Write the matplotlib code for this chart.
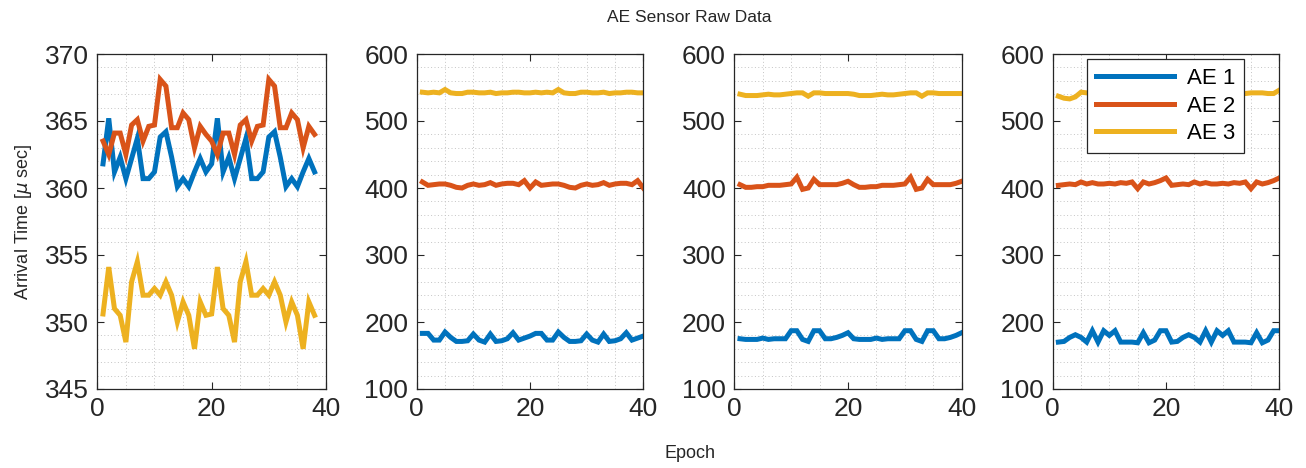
import matplotlib
matplotlib.use("Agg")
import matplotlib.pyplot as plt
from matplotlib.ticker import MultipleLocator

plt.rcParams['font.family'] = ['Liberation Sans', 'DejaVu Sans']

# ---------------- data ----------------
epochs_p1 = list(range(1, 39))
epochs = list(range(1, 41))

p1_ae1 = [361.8, 365.2, 361.2, 362.3, 360.7, 362.2, 363.7, 360.7, 360.7, 361.2,
          363.8, 364.2, 362.3, 360.1, 360.7, 360.1, 361.2, 362.2, 361.2,
          361.8, 365.2, 361.2, 362.3, 360.7, 362.2, 363.7, 360.7, 360.7, 361.2,
          363.8, 364.2, 362.3, 360.1, 360.7, 360.1, 361.2, 362.2, 361.2]
p1_ae2 = [363.5, 362.5, 364.1, 364.1, 362.5, 364.7, 365.1, 363.5, 364.6, 364.7,
          368.1, 367.6, 364.5, 364.5, 365.6, 365.1, 363.0, 364.6, 364.0,
          363.5, 362.5, 364.1, 364.1, 362.5, 364.7, 365.1, 363.5, 364.6, 364.7,
          368.1, 367.6, 364.5, 364.5, 365.6, 365.1, 363.0, 364.6, 364.0]
p1_ae3 = [350.6, 354.1, 351.0, 350.5, 348.5, 353.0, 354.5, 352.0, 352.0, 352.5,
          352.0, 353.0, 352.0, 350.0, 351.5, 350.5, 348.0, 351.5, 350.5,
          350.6, 354.1, 351.0, 350.5, 348.5, 353.0, 354.5, 352.0, 352.0, 352.5,
          352.0, 353.0, 352.0, 350.0, 351.5, 350.5, 348.0, 351.5, 350.5]

p2_ae1 = [183, 183, 173, 173, 185, 177, 171, 171, 172, 182,
          173, 170, 182, 171, 172, 175, 184, 173, 176, 179,
          183, 183, 173, 173, 185, 177, 171, 171, 172, 182,
          173, 170, 182, 171, 172, 175, 184, 173, 176, 179]
p2_ae2 = [409, 404, 405, 406, 406, 404, 401, 400, 404, 406,
          404, 405, 408, 404, 406, 407, 407, 405, 411, 400,
          409, 404, 405, 406, 406, 404, 401, 400, 404, 406,
          404, 405, 408, 404, 406, 407, 407, 405, 411, 400]
p2_ae3 = [543, 542, 543, 542, 547, 542, 541, 541, 543, 543,
          542, 542, 543, 541, 542, 542, 543, 543, 542, 542,
          543, 542, 543, 542, 547, 542, 541, 541, 543, 543,
          542, 542, 543, 541, 542, 542, 543, 543, 542, 542]

p3_ae1 = [175, 174, 174, 174, 176, 174, 175, 175, 175, 187,
          187, 174, 171, 187, 187, 175, 175, 177, 180, 184,
          175, 174, 174, 174, 176, 174, 175, 175, 175, 187,
          187, 174, 171, 187, 187, 175, 175, 177, 180, 184]
p3_ae2 = [405, 401, 401, 402, 402, 404, 404, 404, 405, 406,
          416, 398, 400, 413, 405, 405, 405, 405, 407, 410,
          405, 401, 401, 402, 402, 404, 404, 404, 405, 406,
          416, 398, 400, 413, 405, 405, 405, 405, 407, 410]
p3_ae3 = [540, 538, 538, 538, 539, 540, 539, 539, 540, 541,
          542, 542, 537, 542, 542, 541, 541, 541, 541, 541,
          540, 538, 538, 538, 539, 540, 539, 539, 540, 541,
          542, 542, 537, 542, 542, 541, 541, 541, 541, 541]

p4_ae1 = [170, 171, 177, 181, 177, 170, 187, 170, 187, 180,
          187, 170, 170, 170, 169, 184, 169, 173, 187, 187,
          170, 171, 177, 181, 177, 170, 187, 170, 187, 180,
          187, 170, 170, 170, 169, 184, 169, 173, 187, 187]
p4_ae2 = [404, 405, 406, 405, 409, 406, 408, 406, 406, 407,
          406, 408, 407, 409, 399, 409, 406, 408, 411, 415,
          404, 405, 406, 405, 409, 406, 408, 406, 406, 407,
          406, 408, 407, 409, 399, 409, 406, 408, 411, 415]
p4_ae3 = [537, 534, 533, 536, 543, 542, 542, 541, 542, 542,
          541, 542, 542, 541, 542, 542, 542, 541, 541, 546,
          537, 534, 533, 536, 543, 542, 542, 541, 542, 542,
          541, 542, 542, 541, 542, 542, 542, 541, 541, 546]

series_labels = ['AE 1', 'AE 2', 'AE 3']
colors = ['#0072BD', '#D95319', '#EDB120']

panels = [
    (epochs_p1, [p1_ae1, p1_ae2, p1_ae3], (345, 370), 5, 1),
    (epochs, [p2_ae1, p2_ae2, p2_ae3], (100, 600), 100, 20),
    (epochs, [p3_ae1, p3_ae2, p3_ae3], (100, 600), 100, 20),
    (epochs, [p4_ae1, p4_ae2, p4_ae3], (100, 600), 100, 20),
]

W, H = 1306, 468
fig = plt.figure(figsize=(W / 100, H / 100), dpi=100)

lefts = [97.3, 416.7, 734.3, 1052.7]
widths = [228.7, 226.6, 227.4, 226.6]
top_px, bot_px = 54, 389

axes = []
for (xs, ys_list, ylim, ymaj, ymin), lpx, wpx in zip(panels, lefts, widths):
    ax = fig.add_axes([lpx / W, (H - bot_px) / H, wpx / W, (bot_px - top_px) / H])
    for ys, c, lab in zip(ys_list, colors, series_labels):
        ax.plot(xs, ys, color=c, lw=3.6, label=lab, solid_joinstyle='miter')
    ax.set_xlim(0, 40)
    ax.set_ylim(*ylim)
    ax.xaxis.set_major_locator(MultipleLocator(20))
    ax.xaxis.set_minor_locator(MultipleLocator(5))
    ax.yaxis.set_major_locator(MultipleLocator(ymaj))
    ax.yaxis.set_minor_locator(MultipleLocator(ymin))
    ax.tick_params(which='major', direction='in', length=5, width=0.8,
                   top=True, right=True, labelsize=19, colors='#262626', pad=6)
    ax.tick_params(which='minor', length=0, top=True, right=True)
    ax.grid(which='minor', linestyle=(0, (1, 2.5)), color='#c4c4c4', lw=0.7)
    ax.grid(which='major', visible=False)
    for s in ax.spines.values():
        s.set_color('#262626')
        s.set_linewidth(0.9)
    axes.append(ax)

axes[0].set_ylabel('Arrival Time [$\\mu$ sec]', fontsize=13, color='#262626', labelpad=8)

leg = axes[3].legend(loc='upper left', bbox_to_anchor=(0.151, 0.985), borderaxespad=0,
                     fontsize=16, handlelength=3.5, frameon=True, fancybox=False,
                     edgecolor='#262626', framealpha=1, borderpad=0.4,
                     labelspacing=0.3, handletextpad=0.6)
leg.get_frame().set_linewidth(0.9)

fig.text(0.528, 0.963, 'AE Sensor Raw Data', ha='center', va='center', fontsize=12.5, color='#262626')
fig.text(0.528, 0.03, 'Epoch', ha='center', va='center', fontsize=13, color='#262626')

fig.savefig('out.png', dpi=100)
